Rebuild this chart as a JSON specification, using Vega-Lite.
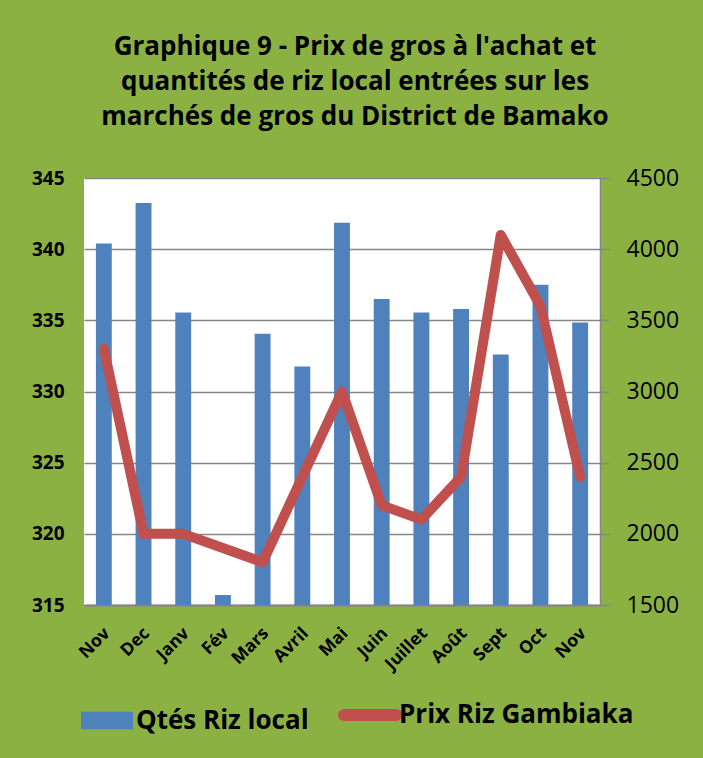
{
  "$schema": "https://vega.github.io/schema/vega-lite/v6.json",
  "autosize": {"type": "none"},
  "width": 516,
  "height": 427,
  "padding": {"left": 84, "top": 178, "right": 103, "bottom": 153},
  "background": "#8CB143",
  "config": {"view": {"fill": "white", "stroke": null}, "font": "Open Sans"},
  "title": {
    "text": ["Graphique 9 - Prix de gros à l'achat et", "quantités de riz local entrées sur les", "marchés de gros du District de Bamako"],
    "font": "Open Sans",
    "fontSize": 26,
    "fontWeight": "bold",
    "color": "black",
    "lineHeight": 35,
    "anchor": "middle",
    "dx": 13,
    "baseline": "bottom",
    "offset": 11
  },
  "data": {
    "values": [
      {"mois": "Nov", "qte": 4040, "prix": 333},
      {"mois": "Dec", "qte": 4325, "prix": 320},
      {"mois": "Janv", "qte": 3555, "prix": 320},
      {"mois": "Fév", "qte": 1570, "prix": 319},
      {"mois": "Mars", "qte": 3405, "prix": 318},
      {"mois": "Avril", "qte": 3175, "prix": 324},
      {"mois": "Mai", "qte": 4185, "prix": 330},
      {"mois": "Juin", "qte": 3650, "prix": 322},
      {"mois": "Juillet", "qte": 3555, "prix": 321},
      {"mois": "Août", "qte": 3580, "prix": 324},
      {"mois": "Sept", "qte": 3260, "prix": 341},
      {"mois": "Oct", "qte": 3750, "prix": 336},
      {"mois": "Nov ", "qte": 3485, "prix": 324}
    ]
  },
  "encoding": {
    "x": {
      "field": "mois",
      "type": "nominal",
      "sort": null,
      "scale": {"paddingInner": 0, "paddingOuter": 0},
      "axis": {
        "title": null,
        "labelExpr": "trim(datum.label)",
        "labelAngle": -45,
        "labelFont": "Open Sans",
        "labelFontSize": 17.5,
        "labelFontWeight": "bold",
        "labelColor": "black",
        "labelPadding": 19,
        "labelOffset": -3,
        "ticks": false,
        "domainColor": "#868686",
        "domainWidth": 2
      }
    }
  },
  "layer": [
    {
      "mark": {"type": "bar", "width": {"band": 0.4}},
      "encoding": {
        "y": {
          "field": "qte",
          "type": "quantitative",
          "scale": {"domain": [1500, 4500], "zero": false, "nice": false},
          "axis": {
            "orient": "right",
            "title": null,
            "format": "d",
            "values": [1500, 2000, 2500, 3000, 3500, 4000, 4500],
            "grid": false,
            "domain": true,
            "domainColor": "#868686",
            "domainWidth": 1.5,
            "ticks": true,
            "tickSize": 9,
            "tickColor": "#868686",
            "tickWidth": 1.5,
            "labelFont": "Open Sans",
            "labelFontSize": 23,
            "labelColor": "black",
            "labelPadding": 17
          }
        },
        "y2": {"datum": 1500},
        "color": {
          "datum": "Qtés Riz local",
          "type": "nominal",
          "scale": {"domain": ["Qtés Riz local", "Prix Riz Gambiaka"], "range": ["#4F81BD", "#C0504D"]},
          "legend": {
            "orient": "none",
            "legendX": 10,
            "legendY": 524,
            "direction": "horizontal",
            "title": null,
            "labelFont": "Open Sans",
            "labelFontSize": 26,
            "labelFontWeight": "bold",
            "labelColor": "black",
            "labelLimit": 400,
            "symbolSize": 2704,
            "labelOffset": 16,
            "columnPadding": 11,
            "encode": {
              "symbols": {
                "update": {
                  "shape": {"signal": "datum.value === 'Qtés Riz local' ? 'M-1,-0.34H1V0.34H-1Z' : 'M-1,0H1'"},
                  "fill": {"signal": "datum.value === 'Qtés Riz local' ? '#4F81BD' : 'transparent'"},
                  "stroke": {"signal": "datum.value === 'Qtés Riz local' ? 'transparent' : '#C0504D'"},
                  "strokeWidth": {"signal": "datum.value === 'Qtés Riz local' ? 0 : 12"},
                  "strokeCap": {"value": "round"},
                  "opacity": {"value": 1}
                }
              }
            }
          }
        }
      }
    },
    {
      "mark": {"type": "line", "strokeWidth": 10, "strokeCap": "round", "strokeJoin": "round"},
      "encoding": {
        "y": {
          "field": "prix",
          "type": "quantitative",
          "scale": {"domain": [315, 345], "zero": false, "nice": false},
          "axis": {
            "orient": "left",
            "title": null,
            "values": [315, 320, 325, 330, 335, 340, 345],
            "grid": true,
            "gridColor": "#868686",
            "gridWidth": 1.5,
            "domain": false,
            "ticks": false,
            "labelFont": "Open Sans",
            "labelFontSize": 19,
            "labelFontWeight": "bold",
            "labelColor": "black",
            "labelPadding": 20
          }
        },
        "color": {"datum": "Prix Riz Gambiaka", "type": "nominal"}
      }
    }
  ],
  "resolve": {"scale": {"y": "independent"}}
}
